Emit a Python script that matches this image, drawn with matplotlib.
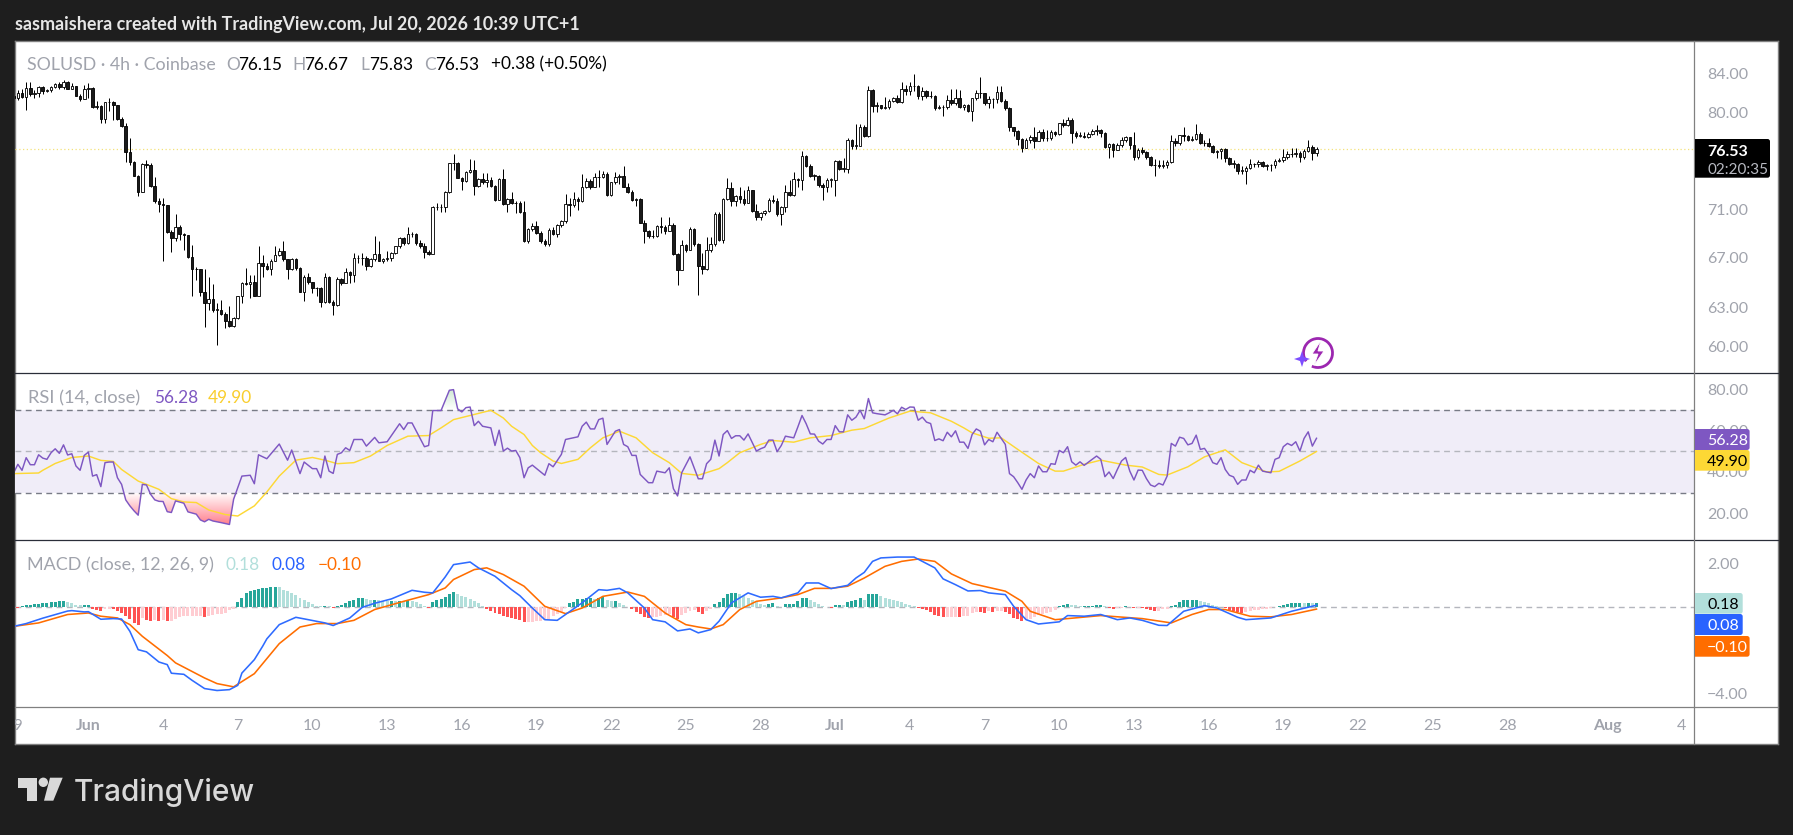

import numpy as np
import matplotlib
matplotlib.use("Agg")
import matplotlib.pyplot as plt
from matplotlib.patches import Rectangle, FancyBboxPatch, Polygon, Circle, Arc
from matplotlib.path import Path

W, H = 1793, 835
FONT = ["Lato", "DejaVu Sans"]
plt.rcParams["font.family"] = FONT

# ---- price data, one line per day (4h bars); bar 0 = 1 Jun 01:00 ----
first_bar = -18
first_open = 81.70
closes = [
 81.45,82.0,81.6,82.45,81.9,81.95,82.55,82.2,82.25,82.55,82.85,82.6,83.1,82.4,82.7,81.7,81.4,82.35,
 82.45,80.55,80.65,79.45,81.05,81.1,
 80.75,79.4,78.75,76.2,75.35,74.05,
 72.6,75.15,75.05,73.15,71.8,71.5,
 71.4,69.1,68.55,69.55,68.95,68.8,
 67.0,66.05,66.0,64.2,63.35,63.6,
 62.8,62.8,62.45,61.95,61.55,62.15,
 63.85,64.9,64.85,65.0,63.9,66.5,
 66.3,66.05,66.7,67.15,67.5,66.8,
 66.0,66.85,66.1,64.2,65.35,64.95,
 64.5,64.5,63.4,65.35,63.4,63.15,
 65.25,64.9,65.8,65.5,66.9,66.9,
 66.9,66.25,66.85,67.25,66.7,66.85,
 66.9,67.3,67.9,68.6,68.15,68.9,
 68.95,68.15,67.95,67.4,67.25,71.25,
 71.25,71.25,72.55,75.2,75.2,73.85,
 73.6,74.35,74.6,73.15,73.75,73.45,
 73.7,73.15,71.9,73.75,71.5,71.95,
 71.6,71.6,70.85,68.3,69.35,69.6,
 69.0,68.3,68.1,69.3,68.9,69.7,
 70.0,71.5,71.45,71.95,71.75,73.05,
 73.55,73.05,73.95,73.9,74.25,72.3,
 73.45,73.95,74.05,73.05,72.55,71.85,
 71.95,69.9,69.2,68.75,68.75,69.6,
 69.55,69.2,69.7,67.25,65.95,68.0,
 67.55,69.35,68.05,66.25,66.05,67.6,
 68.1,70.65,68.45,71.95,72.95,71.75,
 72.2,72.0,71.6,72.75,70.9,70.35,
 70.7,70.9,71.9,71.75,70.6,71.25,
 72.55,72.35,73.75,73.7,75.9,74.95,
 74.05,74.05,73.25,73.0,73.7,73.7,
 75.4,74.7,74.7,77.35,76.85,76.85,
 78.6,77.75,82.3,80.7,80.75,80.5,
 80.55,81.2,81.45,81.1,82.35,82.2,
 82.7,82.65,81.7,82.15,81.7,81.7,
 80.45,80.55,80.55,81.3,80.95,81.45,
 80.55,80.75,80.2,81.45,81.95,81.95,
 80.95,81.35,81.4,82.05,81.2,80.45,
 78.6,78.2,77.45,76.65,77.4,77.7,
 77.3,78.15,77.55,77.55,78.15,77.95,
 78.98,78.85,79.3,78.0,77.8,77.8,
 77.7,77.95,78.2,78.3,78.0,76.7,
 77.0,76.45,76.9,77.35,77.65,76.9,
 75.8,76.45,76.2,75.75,75.05,75.0,
 74.9,75.05,75.3,77.25,77.05,77.85,
 77.75,77.35,77.45,77.95,77.05,77.05,
 76.85,76.2,76.3,76.5,75.7,75.15,
 75.15,74.5,74.5,74.75,75.1,75.1,
 75.3,74.9,75.0,75.0,75.4,75.45,
 75.8,76.05,76.05,76.15,75.75,76.35,
 76.7,76.15,76.53,
]
highs = [
 82.3,82.3,82.35,83.1,83.1,82.3,82.7,82.7,82.4,82.7,83.0,83.05,83.3,83.2,83.0,82.7,81.85,82.8,
 83.0,82.55,81.2,80.8,81.1,81.45,
 81.2,80.8,79.6,79.05,77.55,75.4,
 74.15,75.25,75.5,75.2,73.95,72.05,
 72.05,71.45,69.3,70.6,69.7,69.05,
 68.8,68.0,66.15,66.0,66.0,65.35,
 64.85,63.3,63.55,62.65,63.05,62.2,
 63.9,65.0,66.1,65.5,65.55,67.9,
 67.2,66.5,66.8,67.9,67.75,68.3,
 66.85,66.95,66.9,66.15,65.5,65.7,
 65.0,64.6,64.6,65.7,65.45,63.55,
 65.35,65.3,66.1,65.85,67.35,67.2,
 67.3,67.1,66.95,68.75,68.3,66.95,
 67.5,67.45,67.95,68.7,68.65,69.55,
 69.1,69.0,68.4,68.15,67.6,71.3,
 71.65,71.5,72.7,75.25,76.05,75.3,
 73.95,74.45,75.55,75.5,73.8,74.3,
 74.3,73.95,73.25,73.8,74.65,72.05,
 72.55,71.75,71.75,71.75,69.45,69.9,
 70.05,69.15,68.5,69.45,69.55,69.8,
 70.1,72.4,72.05,72.55,72.1,74.2,
 73.8,73.75,74.3,74.6,74.45,74.35,
 73.5,74.35,74.2,74.95,73.35,72.75,
 72.05,72.05,70.1,69.3,69.3,69.7,
 70.35,69.7,70.35,69.85,67.35,68.45,
 68.1,69.5,69.45,68.2,67.3,68.65,
 68.7,70.85,70.85,72.05,73.8,73.5,
 72.35,73.05,72.8,73.1,72.8,71.5,
 70.85,71.0,72.05,72.35,72.05,71.35,
 73.2,73.7,74.35,73.8,76.3,75.95,
 75.1,74.2,74.15,73.4,73.8,73.8,
 75.5,75.5,75.65,77.55,77.45,78.95,
 78.9,78.85,82.7,82.35,81.1,80.8,
 81.55,81.35,81.6,81.8,83.1,82.8,
 83.05,83.95,82.75,82.6,82.3,82.2,
 81.8,80.75,80.75,81.8,82.35,82.35,
 82.3,80.9,80.9,81.5,82.3,83.6,
 81.95,81.7,81.5,82.65,82.7,81.35,
 80.55,78.65,78.35,77.55,77.55,77.85,
 78.65,78.35,78.4,78.35,78.35,78.2,
 79.05,79.4,79.6,79.5,78.2,78.1,
 78.1,78.1,78.4,78.8,78.4,78.15,
 77.1,77.05,77.1,77.65,77.8,77.7,
 78.1,76.6,76.75,76.35,75.9,75.6,
 75.45,75.45,75.45,77.85,77.55,77.9,
 78.6,77.85,77.75,78.95,78.1,77.4,
 77.55,76.9,76.45,76.65,76.6,75.75,
 75.5,75.25,74.9,74.9,75.55,75.25,
 75.45,75.4,75.1,75.15,75.55,75.65,
 76.5,76.3,76.6,76.6,76.3,76.5,
 77.4,76.9,76.67,
]
lows = [
 81.2,81.3,81.45,80.3,81.7,81.45,81.6,81.85,82.05,82.1,82.45,82.35,82.4,82.35,82.35,81.7,81.2,81.4,
 81.45,80.5,80.35,79.05,79.05,80.2,
 79.3,79.3,78.65,75.35,75.05,74.0,
 72.25,72.6,74.75,73.05,71.65,70.85,
 66.7,69.0,67.4,68.3,68.45,67.55,
 66.9,63.85,65.15,63.85,61.5,62.8,
 62.65,60.15,62.35,61.4,61.45,61.45,
 62.05,63.35,64.75,63.7,63.85,63.85,
 65.4,65.9,65.55,66.65,67.05,66.65,
 65.25,65.9,65.95,64.15,63.5,64.85,
 64.1,63.85,63.0,63.35,63.3,62.4,
 63.1,64.75,64.95,64.9,65.0,66.5,
 66.35,65.9,66.15,66.7,66.65,66.5,
 66.7,66.65,67.25,67.75,68.0,68.1,
 68.7,68.0,67.75,66.95,67.2,67.45,
 71.0,70.85,70.8,72.45,74.6,73.8,
 72.75,73.5,74.3,72.35,73.05,73.3,
 73.05,73.05,71.75,71.85,71.4,70.8,
 71.5,70.7,70.7,68.25,68.2,69.2,
 68.9,68.15,67.9,67.95,68.8,68.7,
 69.55,69.9,70.45,71.25,71.0,71.7,
 72.95,72.85,73.0,73.05,73.85,72.25,
 72.25,73.3,73.3,73.0,72.45,71.75,
 71.3,69.85,68.15,68.6,68.6,68.7,
 69.0,68.95,69.2,67.2,64.7,65.9,
 67.4,67.55,67.95,63.95,65.65,65.9,
 67.45,67.9,68.3,68.15,71.85,71.35,
 71.3,71.6,71.45,71.6,70.85,70.15,
 70.15,70.55,70.85,71.6,70.5,69.7,
 70.85,72.2,72.25,73.05,72.75,74.85,
 73.95,73.7,73.05,71.9,72.55,73.05,
 72.2,74.6,74.35,74.3,76.5,76.55,
 77.25,77.7,77.7,80.05,80.05,80.35,
 80.35,80.4,81.05,80.95,81.0,81.75,
 81.75,82.2,81.4,81.3,81.45,81.45,
 80.3,80.35,79.65,80.35,80.8,80.8,
 80.5,80.3,80.05,79.25,81.3,81.45,
 80.8,80.5,80.5,81.0,81.1,80.3,
 78.2,77.75,76.9,76.2,76.65,77.05,
 76.65,77.25,77.25,77.3,77.4,77.75,
 77.85,78.65,78.7,77.05,77.55,77.65,
 77.55,77.55,77.85,77.9,77.7,76.65,
 75.65,75.8,76.4,76.75,77.15,76.5,
 75.45,75.6,76.05,75.55,74.9,74.05,
 74.75,74.75,74.75,75.2,76.85,76.9,
 77.25,77.25,77.25,77.35,76.95,76.85,
 76.75,76.15,75.65,75.6,75.3,75.05,
 74.75,74.2,74.2,73.3,74.65,74.85,
 74.85,74.85,74.6,74.5,74.8,75.3,
 75.35,75.6,75.8,75.8,75.3,75.6,
 76.2,75.45,75.83,
]
price_ticks = [84, 80, 71, 67, 63, 60]

# ---- RSI line: (bar, value) vertices ----
rsi_bars = [-18,-17,-16,-15,-14,-13,-12,-11,-10,-9,-8,-7,-6,-5,-4,-3,-2,-1,0,1,2,3,4,5,6,7,8,9,10,11,12,13,14,15,16,17,18,19,20,21,23,24,26,27,28,29,30,32,34,35,37,39,40,41,43,46,48,49,51,52,54,55,56,57,58,59,60,61,62,63,64,66,67,69,70,72,75,76,77,78,81,82,83,85,87,88,89,90,91,92,93,94,95,97,98,99,100,101,102,103,104,105,106,107,110,111,112,114,115,118,119,120,121,122,123,124,125,127,128,129,130,131,132,133,135,136,137,139,140,141,142,143,145,146,147,
 148,149,150,151,152,153,154,155,156,157,158,159,161,162,163,164,165,166,167,168,170,171,172,173,174,175,176,177,178,179,180,181,182,183,184,185,186,187,188,189,190,192,193,194,195,196,197,198,199,200,201,202,203,204,205,206,207,208,209,210,211,212,213,214,215,216,217,218,219,221,222,223,224,225,226,227,228,229,230,231,232,233,234,235,236,237,238,239,240,243,244,245,246,247,248,249,250,251,252,253,254,255,256,257,258,259,260,261,262,263,264,265,266,267,268,269,270,271,272,273,274,275,276,277,278,279,280,281,282,283,284,285,286,287,288,289,290,291,292,293,294,295,296]
rsi_vals = [39.6,43.7,40.8,46.9,43.5,43.5,48.3,46.7,46.1,49.3,51.2,49,53.1,48.2,48.8,42.9,40.8,48,49.6,38,38.7,32.9,44.5,44.8,44.8,37.2,34,26.5,23.6,21.2,19.1,34,33.7,29.2,26.5,25.8,25.7,20.8,20.4,26,24.9,20.7,19.6,16.8,15.9,17.1,16.3,15.5,14.6,26.8,38,38.4,34.3,48.3,46.4,53.5,45.7,50.6,39.2,44.8,41.6,41.6,37.2,47.7,40.4,39.3,48.5,49.3,51.7,50.4,55.7,55.7,52.5,56.7,54.1,54.6,63.3,60.5,63.7,63.7,52.2,52.8,69.7,69.7,79.5,79.8,70.5,69,71.1,71.4,62.4,64.5,62.1,61.3,52.8,60.2,50.1,51.5,50.1,50.4,46.9,37.2,42,43.3,38.4,44,42.5,48.5,55.7,57,62.1,64.1,60.8,60.8,65.3,66,53.3,59.7,60.5,53.3,52.2,48,48,38.8,34.8,34.8,40.4,39.6,42,31.9,28.4,39.6,47.3,42,36.7,
 36.7,44,46.1,55.4,47.7,58.1,60,56.2,57.5,57.5,55.4,58.4,50.1,51.2,52,55.4,55.4,49.8,52.8,57.3,56.5,61.8,67.3,63.3,58.4,58.3,54.9,53.5,55.7,55.7,62.4,59.4,59.4,67.6,65,66.5,69.8,65.7,75.5,68.6,68.2,67.6,68.6,69.8,68.1,71.3,70.2,71.4,71.3,65,66.5,64.1,63.4,55.2,56,55.1,59.2,57,59.9,54.4,54.4,51.4,58.1,60.8,59.7,53.1,55.7,54.6,59.2,53.3,39.2,37.7,34.8,31.6,36.1,39.2,37.2,42.9,40.1,40.1,44,43.7,50.4,49.3,52.2,44.9,43.3,44.9,43.2,47.7,46.1,37.7,40,36.8,41.2,45.3,47,40.4,36.1,40.9,40.8,36.8,33.7,32.9,34.5,33.7,38,53.8,52.5,56.8,56.2,53.1,53.8,57.8,50.9,51.4,48.5,44.5,43.7,46.9,41.2,38.4,37.6,34,36.1,36.1,40.8,39.6,43.3,40.4,40,39.6,46.1,46.9,52.2,53.8,52.8,54.6,50.1,56.2,59.4,52.5,56.28]
rsi_ma_bars = [-18,-12,-11,-8,-4,0,3,6,8,12,15,17,20,23,26,29,33,36,40,43,46,50,54,57,60,64,68,72,77,82,85,88,93,97,100,102,105,107,109,112,114,118,121,124,128,132,136,140,143,147,152,154,157,162,165,170,174,179,184,187,193,198,203,208,211,213,217,220,224,229,233,235,240,244,250,254,258,260,265,269,274,278,284,287,292,296]
rsi_ma_vals = [39.2,39.5,40.8,44.1,47,47.7,45.6,45.1,41.2,35.6,33.2,31.6,27.1,25.5,25.2,21.6,19.4,18.7,23.6,30.3,38,45.7,47,45.7,44,44.5,47.7,52.8,57.3,57.6,61.3,65.3,67.8,69.8,66.1,62.1,58.1,52.8,49.3,45.3,44.1,46.1,51.7,56.5,59.7,56.5,49.3,44.5,39.3,38.4,41.6,44.5,49.3,53.3,55.2,54.4,56.5,57.6,60.2,61,66.1,69.4,68.6,64.5,61.3,58.9,56.3,56.5,50.9,44.1,40.4,40.4,43.7,45.7,43.3,42.4,38.8,38.5,42.5,47.3,50.7,44.5,40,40.3,45.3,49.9]
rsi_ticks = [80, 60, 40, 20]
rsi_levels = [70, 50, 30]

# ---- MACD ----
macd_bars = [-18,-15,-11,-5,-4,-1,0,3,6,8,10,12,14,17,19,20,23,25,28,31,34,36,37,40,42,43,46,50,53,57,59,63,66,69,73,78,81,83,85,86,88,92,94,98,102,104,107,110,113,115,119,123,125,128,130,134,136,139,142,145,147,150,152,155,159,162,165,167,171,173,176,179,183,185,187,189,191,195,199,204,206,209,212,215,217,221,223,226,229,234,236,240,244,248,251,254,258,260,264,269,272,277,279,285,290,296]
macd_vals = [-0.90,-0.77,-0.52,-0.19,-0.17,-0.23,-0.22,-0.57,-0.54,-0.56,-1.13,-1.98,-2.08,-2.55,-2.67,-3.07,-3.12,-3.40,-3.78,-3.87,-3.83,-3.63,-3.06,-2.44,-1.82,-1.48,-0.82,-0.48,-0.59,-0.74,-0.86,-0.51,-0.02,0.17,0.37,0.77,0.68,0.65,1.14,1.39,1.96,2.08,1.81,1.42,0.80,0.52,-0.05,-0.59,-0.62,-0.35,0.19,0.80,0.77,0.86,0.65,-0.05,-0.59,-0.69,-1.11,-1.02,-1.20,-1.05,-0.66,0.19,0.65,0.45,0.49,0.42,0.65,1.11,1.11,0.85,1.00,1.34,1.60,2.11,2.27,2.31,2.31,1.81,1.30,1.03,0.74,0.76,0.65,0.57,0.03,-0.59,-0.79,-0.69,-0.40,-0.43,-0.35,-0.59,-0.51,-0.62,-0.85,-0.86,-0.20,0.06,-0.05,-0.48,-0.59,-0.51,-0.20,0.08]
signal_bars = [-18,-12,-5,0,3,7,10,13,19,21,28,31,35,40,46,51,55,60,64,69,76,82,86,88,93,96,100,105,110,115,119,124,130,134,139,144,147,150,153,157,161,167,171,175,179,183,187,192,196,200,204,208,213,221,225,227,233,236,244,254,261,266,270,274,280,285,290,296]
signal_vals = [-0.90,-0.74,-0.35,-0.28,-0.43,-0.51,-0.82,-1.36,-2.25,-2.59,-3.29,-3.55,-3.70,-3.09,-1.70,-0.93,-0.77,-0.77,-0.62,-0.12,0.26,0.57,0.88,1.27,1.73,1.81,1.50,0.96,0.03,-0.31,-0.05,0.49,0.69,0.49,-0.28,-0.82,-0.93,-1.02,-0.82,-0.12,0.26,0.42,0.57,0.86,0.86,0.96,1.34,1.88,2.11,2.22,2.11,1.53,1.08,0.73,0.26,-0.20,-0.59,-0.54,-0.40,-0.54,-0.74,-0.35,-0.12,-0.12,-0.43,-0.46,-0.35,-0.10]
hist_early = [0,-0.03,0.03,0.08,0.09,0.12,0.15,0.19,0.2,0.22,0.23,0.26,0.26,0.22,0.19,0.11,0.08,0.11,0.11,
 -0.08,-0.12,-0.2,-0.08,-0.08,-0.11,-0.19,-0.28,-0.43,-0.57,-0.73,-0.85,-0.49,-0.59,-0.65,-0.62,-0.65,-0.59,-0.65,-0.65,-0.54,-0.46,-0.43,-0.43,-0.43,-0.43,-0.43,-0.46,-0.42,-0.39,-0.34,-0.34,-0.26,-0.15,-0.08,
 0.23,0.42,0.65,0.73,0.77,0.85,0.9,0.9,0.93,0.94,0.93,0.8,0.73,0.65,0.54,0.42,0.31,0.23,0.12,0.06,0.03,0.05,0.03,-0.06,0.05,0.11,0.19,0.26,0.34,0.4,0.43,0.37,0.34,0.34,0.31,0.29,0.28,0.28,0.26,0.29,0.28,0.31,0.26,0.22,0.12,0.05,-0.03,0.22,0.31,0.37,0.45,0.59,0.71,0.59,0.51,0.46,0.37,0.26,0.17,0.05,-0.09,-0.17,-0.29,-0.34,-0.42,-0.46,-0.49,-0.54,-0.62,-0.71,-0.71,-0.69,-0.65,-0.65,-0.59,-0.54,-0.43,-0.31,-0.23,-0.05,0.19,0.25,0.39,0.39,0.42,0.43,0.37,0.43,0.46,0.31,0.28,0.28,0.19,0.09,0.02,-0.09,-0.23,-0.34,-0.46,-0.49,-0.46,-0.46,-0.43,-0.39,-0.35,-0.46,-0.56,-0.39,-0.28,-0.2,-0.12,-0.23]
hist_late = [-0.31,-0.19,-0.08,0.15,0.23,0.42,0.59,0.66,0.66,0.59,0.51,0.43,0.34,0.22,0.14,0.09,0.12,0.17,0.05,0.02,0.12,0.12,0.12,0.28,0.4,0.4,0.31,0.23,0.12,0.06,-0.02,-0.05,0.08,0.09,0.08,0.22,0.26,0.34,0.4,0.34,0.59,0.59,0.59,0.49,0.43,0.37,0.34,0.26,0.22,0.15,0.11,0.05,-0.03,-0.09,-0.15,-0.25,-0.37,-0.43,-0.48,-0.45,-0.45,-0.45,-0.46,-0.43,-0.43,-0.26,-0.22,-0.25,-0.28,-0.19,-0.23,-0.2,-0.19,-0.22,-0.34,-0.52,-0.56,-0.65,-0.62,-0.54,-0.46,-0.39,-0.34,-0.28,-0.22,-0.12,0.03,0.09,0.15,0.09,0.08,0.06,0.06,0.06,0.06,0.08,0.08,0.05,-0.03,-0.09,-0.06,-0.03,0.03,0.02,-0.06,-0.05,-0.06,-0.11,-0.14,-0.19,-0.19,-0.11,-0.08,0.03,0.09,0.22,0.31,0.34,0.34,0.34,0.29,0.23,0.19,0.11,0.05,-0.02,-0.06,-0.12,-0.19,-0.23,-0.26,-0.23,-0.2,-0.15,-0.12,-0.09,-0.08,-0.03,0.02,0.05,0.11,0.15,0.19,0.19,0.2,0.19,0.19,0.17,0.18]
macd_ticks = [2, -4]

# ---- time axis ----
time_days = [-3,0,3,6,9,12,15,18,21,24,27,30,33,36,39,42,45,48,51,54,57,61,64]
time_labels = ["29","Jun","4","7","10","13","16","19","22","25","28","Jul","4","7","10","13","16","19","22","25","28","Aug","4"]
bold_labels = {"Jun","Jul","Aug"}

# ---- colours ----
BG = "#1E1E1E"; GREY = "#A0A3AC"; BORDER = "#808080"; DARK = "#2A2E39"
PURPLE = "#7E57C2"; YELLOW = "#FDD835"; BLUE = "#2962FF"; ORANGE = "#FF6D00"
TEAL = "#26A69A"; TEAL_L = "#B2DFDB"; RED = "#FF5252"; RED_L = "#FFCDD2"

fig = plt.figure(figsize=(W/100, H/100), dpi=100, facecolor=BG)

def px_axes(x0, y0, x1, y1, **kw):
    return fig.add_axes([x0/W, 1-y1/H, (x1-x0)/W, (y1-y0)/H], **kw)

# white sheet
sheet = px_axes(15.3, 41, 1778, 744)
sheet.set_xticks([]); sheet.set_yticks([]); sheet.set_facecolor("white")
for s in sheet.spines.values():
    s.set_color(BORDER); s.set_linewidth(1)

X0, X1, PX_BAR, PX_ZERO = 15.3, 1694.0, 4.149, 88.4
xlim = ((X0-PX_ZERO)/PX_BAR, (X1-PX_ZERO)/PX_BAR)

def pane(y0, y1):
    ax = px_axes(X0, y0, X1, y1)
    ax.patch.set_alpha(0)
    ax.set_xlim(*xlim)
    ax.set_xticks([])
    for s in ax.spines.values():
        s.set_visible(False)
    ax.yaxis.tick_right()
    ax.tick_params(axis="y", length=0, pad=9.5, labelsize=11.5, labelcolor=GREY)
    return ax

# ---- price pane ----
ax = pane(41, 373.3)
ax.set_yscale("log")
ax.set_ylim(58.07, 87.4)
ax.set_yticks(price_ticks)
ax.set_yticklabels([f"{t:.2f}" for t in price_ticks])
ax.minorticks_off()
bars = np.arange(first_bar, first_bar+len(closes))
opens = np.array([first_open]+closes[:-1])
c = np.array(closes); hi = np.array(highs); lo = np.array(lows)
ax.axhline(closes[-1], color="#F4E27A", lw=0.9, ls=(0, (1, 2.0)), zorder=1)
ax.vlines(bars, lo, hi, color="black", lw=0.72, zorder=2)
up = c >= opens
bottoms = np.minimum(opens, c); heights = np.maximum(np.abs(c-opens), 0.03)
ax.bar(bars, heights, bottom=bottoms, width=0.62,
       color=["white" if u else "#1A1A1A" for u in up], edgecolor="black", lw=0.62, zorder=3)

# ---- RSI pane ----
ar = pane(373.3, 540)
ar.set_ylim(7.1, 87.7)
ar.set_yticks(rsi_ticks); ar.set_yticklabels([f"{t:.2f}" for t in rsi_ticks])
ar.axhspan(rsi_levels[2], rsi_levels[0], color="#F0EDF8", lw=0, zorder=0)
for lv, col in zip(rsi_levels, ["#787B86", "#B4B6BD", "#787B86"]):
    ar.axhline(lv, color=col, lw=1, ls=(0, (4.2, 3.2)), zorder=1)
rb = np.array(rsi_bars, float); rv = np.array(rsi_vals, float)
def gradient_fill(poly, rgb, v_strong, v_zero, peak):
    lo_v, hi_v = min(v_strong, v_zero), max(v_strong, v_zero)
    n = 64
    ys = np.linspace(lo_v, hi_v, n)
    a = np.clip((ys-v_zero)/(v_strong-v_zero), 0, 1)*peak
    img = np.ones((n, 1, 4)); img[..., :3] = rgb; img[:, 0, 3] = a
    im = ar.imshow(img, extent=(xlim[0], xlim[1], lo_v, hi_v), origin="lower",
                   aspect="auto", zorder=1.5)
    clip = Path.make_compound_path(*poly.get_paths())
    im.set_clip_path(clip, transform=ar.transData)
    poly.set_visible(False)
p_low = ar.fill_between(rb, rv, rsi_levels[2], where=rv <= rsi_levels[2], interpolate=True, lw=0)
gradient_fill(p_low, (1.0, 0.42, 0.48), 15, 30, 0.85)
p_up = ar.fill_between(rb, rv, rsi_levels[0], where=rv >= rsi_levels[0], interpolate=True, lw=0)
gradient_fill(p_up, (0.45, 0.75, 0.50), 80, 70, 0.35)
ar.set_xlim(*xlim); ar.set_ylim(7.1, 87.7)
ar.plot(rsi_ma_bars, rsi_ma_vals, color=YELLOW, lw=1.05, zorder=3)
ar.plot(rb, rv, color=PURPLE, lw=1.05, zorder=4)

# ---- MACD pane ----
am = pane(540, 706.7)
am.set_ylim(-4.62, 3.1)
am.set_yticks(macd_ticks)
am.set_yticklabels([f"{t:.2f}".replace("-", "\u2212") for t in macd_ticks])
am.axhline(0, color="#B4B6BD", lw=1, ls=(0, (4.2, 3.2)), zorder=1)
hv = hist_early+hist_late
hb = list(first_bar+np.arange(len(hist_early)))+list(297-len(hist_late)+np.arange(len(hist_late)))
cols = []
for i, v in enumerate(hv):
    prev = hv[i-1] if i else v
    if v >= 0:
        cols.append(TEAL if v >= prev else TEAL_L)
    else:
        cols.append(RED if v < prev else RED_L)
am.bar(hb, hv, width=0.72, color=cols, lw=0, zorder=2)
am.plot(signal_bars, signal_vals, color=ORANGE, lw=1.15, zorder=3)
am.plot(macd_bars, macd_vals, color="#2E6BFF", lw=1.15, zorder=4)

# ---- time axis ----
at = px_axes(X0, 706.7, X1, 744)
at.patch.set_alpha(0); at.set_xlim(*xlim); at.set_ylim(0, 1); at.axis("off")
for d, lab in zip(time_days, time_labels):
    at.text(d*6, 0.49, lab, ha="center", va="center", fontsize=11.5, color=GREY,
            fontweight="bold" if lab in bold_labels else "normal", clip_on=True)

# ---- overlay (pixel coordinates): rules, labels, logos ----
ov = fig.add_axes([0, 0, 1, 1], zorder=10)
ov.set_xlim(0, W); ov.set_ylim(H, 0); ov.axis("off"); ov.patch.set_alpha(0)
ov.plot([15.3, 1778], [373.3, 373.3], color=DARK, lw=0.9)
ov.plot([15.3, 1778], [540, 540], color=DARK, lw=0.9)
ov.plot([15.3, 1778], [706.7, 706.7], color=BORDER, lw=0.9)
ov.plot([1694, 1694], [41, 744], color=BORDER, lw=0.9)

def tag(y0, y1, x1, col):
    p = FancyBboxPatch((1688, y0+1.5), x1-1688-1.5, y1-y0-3,
                       boxstyle="round,pad=1.5,rounding_size=2.5", fc=col, ec="none", zorder=3)
    ov.add_patch(p)
    p.set_clip_path(Rectangle((1694.5, 0), 200, H, transform=ov.transData))
def label(x, y, s, col, size=11.5, weight="normal", ha="left"):
    ov.text(x, y, s, color=col, fontsize=size, fontweight=weight, ha=ha, va="center_baseline", zorder=5)

tag(139, 177.7, 1770, "#000000")
label(1707, 150, f"{closes[-1]:.2f}", "white", weight="bold")
label(1707, 168, "02:20:35", "#B8BAC2", size=11)
tag(429, 450, 1749.6, PURPLE); label(1707, 439.5, f"{rsi_vals[-1]:.2f}", "white")
tag(450, 470.7, 1749.6, YELLOW); label(1707, 460.5, f"{rsi_ma_vals[-1]:.2f}", "black")
tag(593, 613.7, 1742.7, TEAL_L); label(1707, 603.5, f"{hist_late[-1]:.2f}", "black")
tag(614, 635, 1742.7, BLUE); label(1707, 624.5, f"{macd_vals[-1]:.2f}", "white")
tag(636, 656.7, 1749.6, ORANGE); label(1707, 646.5, f"{signal_vals[-1]:.2f}".replace("-", "\u2212"), "white")

label(15, 23, "sasmaishera created with TradingView.com, Jul 20, 2026 10:39 UTC+1", "#E6E6E6", size=12.85, weight="bold")

label(27, 63.3, "SOLUSD \u00b7 4h \u00b7 Coinbase", GREY, size=12.8)
for x, s, col in [(225.8,"O",GREY),(238,"76.15","black"),(292.8,"H",GREY),(304,"76.67","black"),
                  (360,"L",GREY),(369,"75.83","black"),(424,"C",GREY),(435.5,"76.53","black"),
                  (490.6,"+0.38 (+0.50%)","black")]:
    label(x, 63.3, s, col, size=12.4)
label(27.7, 396.7, "RSI (14, close)", GREY, size=13.2)
label(154, 396.7, "56.28", PURPLE, size=12.4)
label(207.6, 396.7, "49.90", "#F9CE2D", size=12.4)
label(27, 564, "MACD (close, 12, 26, 9)", GREY, size=12.9)
label(226, 564, "0.18", TEAL_L, size=12.4)
label(272, 564, "0.08", BLUE, size=12.4)
label(318, 564, "\u22120.10", ORANGE, size=12.4)

# spark icon
ov.add_patch(Arc((1318, 353), 29, 29, theta1=-215, theta2=115, ec="#9C27B0", lw=2, zorder=5))
ov.add_patch(Polygon([(1321,340.5),(1312,354),(1318,354),(1314,365.5),(1324,351),(1318,351)],
                     closed=True, fc="#9C27B0", ec="white", lw=0.6, zorder=6))
star = [(1302,351),(1304,357),(1310,359),(1304,361),(1302,367),(1300,361),(1294,359),(1300,357)]
ov.add_patch(Polygon(star, closed=True, fc="#7C4DFF", ec="none", zorder=6))

# TradingView logo
LG = "#D9D9D9"
ov.add_patch(Polygon([(18.3,777.7),(36.7,777.7),(36.7,800.7),(26.7,800.7),(26.7,787.7),(18.3,787.7)], closed=True, fc=LG, ec="none"))
ov.add_patch(Circle((43.3,782.3), 4.7, fc=LG, ec="none"))
ov.add_patch(Polygon([(50,777.7),(62.7,777.7),(53.3,800.7),(44,800.7)], closed=True, fc=LG, ec="none"))
ov.text(74, 801, "TradingView", color=LG, fontsize=21.5, fontweight=500, family=["Inter","Lato","DejaVu Sans"], ha="left", va="baseline")

fig.savefig("out.png", dpi=100, facecolor=BG)
